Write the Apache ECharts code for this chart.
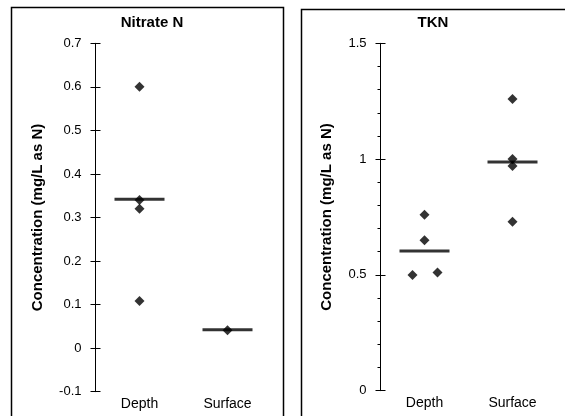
<!DOCTYPE html>
<html><head><meta charset="utf-8">
<script src="https://cdn.jsdelivr.net/npm/echarts@6/dist/echarts.min.js"></script>
<style>html,body{margin:0;padding:0;background:#fff}#c{width:565px;height:416px}</style>
</head><body><div id="c"></div>
<script>
var categories = ['Depth', 'Surface'];
// Nitrate N
var nitrateDepth = [0.60, 0.34, 0.32, 0.108];
var nitrateSurface = [0.041];
var nitrateMedian = [0.342, 0.042];
// TKN
var tknDepth = [0.76, 0.65, 0.50, 0.51];
var tknDepthJitter = [0, 0, -12, 13];
var tknSurface = [1.26, 1.00, 0.97, 0.73];
var tknMedian = [0.603, 0.988];
var nitrateTicks = [-0.1, 0, 0.1, 0.2, 0.3, 0.4, 0.5, 0.6, 0.7];
var tknTicks = [0, 0.5, 1, 1.5];

var FONT = 'Liberation Sans, Arial, sans-serif';
var chart = echarts.init(document.getElementById('c'), null, {renderer: 'canvas'});

function pts(cat, vals, jit) {
  return vals.map(function (v, i) {
    var o = {value: [cat, v]};
    if (jit && jit[i]) o.symbolOffset = [jit[i], 0];
    return o;
  });
}
function medians(vals) {
  return vals.map(function (v, i) { return [categories[i], v]; });
}

var grids = [
  {left: 95.5, top: 43.3, width: 176, height: 348.4},
  {left: 380.5, top: 43.3, width: 176, height: 347.4}
];

function xAx(gi) {
  return {
    type: 'category', gridIndex: gi, data: categories, boundaryGap: true,
    axisLine: {show: false}, axisTick: {show: false}, splitLine: {show: false},
    axisLabel: {color: '#000', fontFamily: FONT, fontSize: 14, margin: 5}
  };
}
function yAxes(gi, ticks, interval, minor) {
  var min = ticks[0], max = ticks[ticks.length - 1];
  var main = {
    type: 'value', gridIndex: gi, min: min, max: max, interval: interval,
    axisLine: {show: true, lineStyle: {color: '#000', width: 1}},
    axisTick: {show: true, inside: false, length: 5, lineStyle: {color: '#000'}},
    minorTick: {show: minor, splitNumber: 5, length: 3, lineStyle: {color: '#000'}},
    splitLine: {show: false},
    axisLabel: {color: '#000', fontFamily: FONT, fontSize: 13, margin: 14},
    name: 'Concentration (mg/L as N)', nameLocation: 'middle', nameRotate: 90,
    nameTextStyle: {color: '#000', fontFamily: FONT, fontSize: 15, fontWeight: 'bold'}
  };
  var inner = {
    type: 'value', gridIndex: gi, min: min, max: max, interval: interval,
    position: 'left',
    axisLine: {show: false}, axisTick: {show: true, inside: true, length: 5, lineStyle: {color: '#000'}},
    splitLine: {show: false}, axisLabel: {show: false}
  };
  return [main, inner];
}

var y0 = yAxes(0, nitrateTicks, 0.1, false);
y0[0].nameGap = 50;
var y1 = yAxes(1, tknTicks, 0.5, true);
y1[0].nameGap = 46;

var diamond = {symbol: 'diamond', symbolSize: 10, itemStyle: {color: '#000'}, z: 3};
function sc(xi, yi, data, extra) {
  return Object.assign({type: 'scatter', xAxisIndex: xi, yAxisIndex: yi, data: data, animation: false, silent: true}, extra);
}
var medianStyle = {symbol: 'rect', symbolSize: [50, 3], itemStyle: {color: '#000'}, z: 2};

chart.setOption({
  animation: false,
  title: [
    {text: 'Nitrate N', left: 147, top: 10, textAlign: 'center',
     textStyle: {fontFamily: FONT, fontSize: 15, fontWeight: 'bold', color: '#000'}},
    {text: 'TKN', left: 428, top: 10, textAlign: 'center',
     textStyle: {fontFamily: FONT, fontSize: 15, fontWeight: 'bold', color: '#000'}}
  ],
  grid: grids,
  xAxis: [xAx(0), xAx(1)],
  yAxis: [y0[0], y0[1], y1[0], y1[1]],
  series: [
    sc(0, 0, medians(nitrateMedian), medianStyle),
    sc(0, 0, pts('Depth', nitrateDepth), diamond),
    sc(0, 0, pts('Surface', nitrateSurface), diamond),
    sc(1, 2, medians(tknMedian), medianStyle),
    sc(1, 2, pts('Depth', tknDepth, tknDepthJitter), diamond),
    sc(1, 2, pts('Surface', tknSurface), diamond)
  ],
  graphic: [
    {type: 'rect', shape: {x: 11.5, y: 7.5, width: 272, height: 420}, style: {fill: 'none', stroke: '#000', lineWidth: 1.5}},
    {type: 'rect', shape: {x: 301.5, y: 9.5, width: 280, height: 420}, style: {fill: 'none', stroke: '#000', lineWidth: 1.5}}
  ]
});
</script></body></html>
